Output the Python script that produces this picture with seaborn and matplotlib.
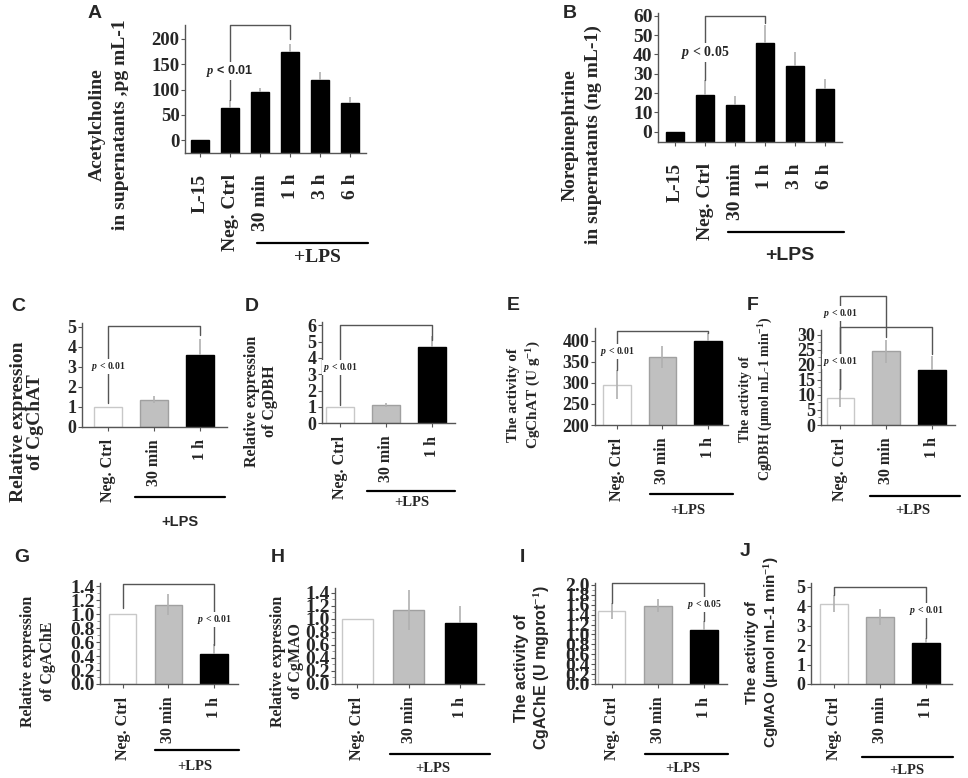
import matplotlib

matplotlib.use("Agg")
import matplotlib.pyplot as plt
import pandas as pd
import seaborn as sns
from matplotlib.lines import Line2D
from matplotlib.ticker import MultipleLocator

W, H = 968, 778

# values (mean, upper error)
time_cats = ["L-15", "Neg. Ctrl", "30 min", "1 h", "3 h", "6 h"]
lps_cats = ["Neg. Ctrl", "30 min", "1 h"]

ach_mean = [0, 63, 96, 174, 119, 73]
ach_err = [0, 17, 6, 17, 16, 13]
ne_mean = [0, 19, 14, 46, 34, 22]
ne_err = [0, 7.7, 4.5, 9, 7, 5]

chat_expr = [1.0, 1.35, 3.62]
chat_expr_err = [0, 0.17, 0.8]
dbh_expr = [1.0, 1.13, 4.68]
dbh_expr_err = [0, 0.12, 0.65]
chat_act = [296, 362, 399]
chat_act_err = [34, 26, 20]
dbh_act = [9.0, 24.5, 18.2]
dbh_act_err = [2.9, 3.9, 4.7]
ache_expr = [1.0, 1.14, 0.43]
ache_expr_err = [0, 0.15, 0.15]
mao_expr = [1.0, 1.13, 0.93]
mao_expr_err = [0, 0.31, 0.27]
ache_act = [1.48, 1.58, 1.10]
ache_act_err = [0.16, 0.13, 0.18]
mao_act = [4.14, 3.46, 2.09]
mao_act_err = [0.42, 0.41, 0.26]

SERIF = "Liberation Serif"
SANS = "Liberation Sans"
EDGE = "#555555"
ERR = "#b0b0b0"
TRIO = ["white", "#c0c0c0", "black"]
TRIO_EDGE = ["#c8c8c8", "#a0a0a0", "black"]

sns.set_style("ticks")
plt.rcParams.update({
    "font.family": [SERIF],
    "font.weight": "bold",
    "mathtext.fontset": "custom",
    "mathtext.rm": "Liberation Serif:bold",
    "mathtext.it": "Liberation Serif:italic:bold",
    "mathtext.bf": "Liberation Serif:bold",
})

fig = plt.figure(figsize=(W / 100, H / 100), dpi=100)


def add_ax(left, top, right, bottom):
    return fig.add_axes([left / W, 1 - bottom / H, (right - left) / W, (bottom - top) / H])


def ftext(x, y, s, size, family=SERIF, rotation=0, ls=1.2):
    fig.text(x / W, 1 - y / H, s, fontsize=size, family=family, rotation=rotation,
             ha="center", va="center", multialignment="center", linespacing=ls)


def lps(x0, x1, y, tx, ty, size, family=SERIF):
    fig.add_artist(Line2D([x0 / W, x1 / W], [1 - y / H, 1 - y / H], color="black", lw=1.6))
    ftext(tx, ty, "+LPS", size, family)


def bar_panel(ax, cats, mean, err, fills, edges, ylim, xlim, yticks,
              ysize=12.5, xsize=11.5, xpad=6, width=0.6, floor=None, minor=None):
    df = pd.DataFrame({"group": cats, "mean": mean})
    sns.barplot(data=df, x="group", y="mean", hue="group", palette=fills, legend=False,
                width=width, linewidth=1, errorbar=None, ax=ax)
    for patch, ec in zip(ax.patches, edges):
        patch.set_edgecolor(ec)
        if floor is not None:
            top = patch.get_y() + patch.get_height()
            patch.set_y(floor)
            patch.set_height(top - floor)
    low = [e if f != "black" else 0 for e, f in zip(err, fills)]
    ax.errorbar(range(len(cats)), mean, yerr=[low, err], fmt="none", ecolor=ERR,
                elinewidth=1.2, capsize=0, zorder=3)
    ax.set_ylim(*ylim)
    ax.set_xlim(*xlim)
    ax.set_yticks(yticks)
    if minor:
        ax.yaxis.set_minor_locator(MultipleLocator(minor))
        ax.tick_params(axis="y", which="minor", length=2, width=0.6, color="#888888")
    ax.set_xlabel("")
    ax.set_ylabel("")
    ax.tick_params(axis="y", labelsize=ysize, length=3, width=0.8, color=EDGE, pad=1)
    ax.tick_params(axis="x", labelsize=xsize, labelrotation=90, length=3, width=0.8,
                   color=EDGE, pad=xpad)
    sns.despine(ax=ax)
    for side in ("left", "bottom"):
        ax.spines[side].set_color(EDGE)
        ax.spines[side].set_linewidth(1)


def bracket(ax, x0, x1, top, y0, y1):
    ax.plot([x0, x0, x1, x1], [y0, top, top, y1], color=EDGE, lw=1, clip_on=False, zorder=4)


def pnote(ax, x, y, s, size=7, family=SERIF):
    ax.text(x, y, s, ha="center", va="center", fontsize=size, family=family, zorder=5,
            bbox=dict(fc="white", ec="none", pad=0.8))


# A - acetylcholine
ax = add_ax(185, 25, 366, 153)
bar_panel(ax, time_cats, ach_mean, ach_err, ["black"] * 6, ["black"] * 6,
          (-25.7, 227.7), (-0.5, 5.53), [0, 50, 100, 150, 200], ysize=13.5, xsize=14,
          xpad=12, floor=-25.7)
bracket(ax, 1, 3, 228, 80, 200)
pnote(ax, 1, 137, "$p$ < 0.01", 9, SANS)
ftext(109, 125, "Acetylcholine\nin supernatants ,pg mL-1", 14, rotation=90, ls=1.45)
ftext(95, 14, "A", 14, SANS)
lps(257, 368, 243, 317, 258, 14)

# B - norepinephrine
ax = add_ax(658, 13, 842, 142.3)
bar_panel(ax, time_cats, ne_mean, ne_err, ["black"] * 6, ["black"] * 6,
          (-5.5, 61.4), (-0.57, 5.57), [0, 10, 20, 30, 40, 50, 60], ysize=14, xsize=14,
          xpad=12, floor=-5.5)
bracket(ax, 1, 3, 60, 26.7, 56)
pnote(ax, 1, 40.9, "$p$ < 0.05", 10)
ftext(582, 135, "Norepinephrine\nin supernatants (ng mL-1)", 14, rotation=90, ls=1.5)
ftext(570, 13, "B", 14, SANS)
lps(728, 844, 232, 790, 255, 14, SANS)

# C - CgChAT expression
ax = add_ax(82, 323, 227, 426.7)
bar_panel(ax, lps_cats, chat_expr, chat_expr_err, TRIO, TRIO_EDGE,
          (0, 5.2), (-0.57, 2.58), [0, 1, 2, 3, 4, 5], ysize=13)
bracket(ax, 0, 2, 5.05, 1.18, 4.6)
pnote(ax, 0, 3.03, "$p$ < 0.01")
ftext(27, 422, "Relative expression\nof CgChAT", 14, rotation=90, ls=1.0)
ftext(18, 307, "C", 14, SANS)
lps(135, 225, 497, 180, 522, 10.5, SANS)

# D - CgDBH expression
ax = add_ax(322, 322, 455, 423.3)
bar_panel(ax, lps_cats, dbh_expr, dbh_expr_err, TRIO, TRIO_EDGE,
          (0, 6.2), (-0.39, 2.5), [0, 1, 2, 3, 4, 5, 6], ysize=13)
bracket(ax, 0, 2, 6.0, 1.13, 5.1)
pnote(ax, 0, 3.39, "$p$ < 0.01")
ftext(261, 401, "Relative expression\nof CgDBH", 11.5, rotation=90, ls=1.15)
ftext(252, 307, "D", 14, SANS)
lps(367, 455, 491, 412, 502, 10.5)

# E - CgChAT activity
ax = add_ax(595, 328, 728, 425)
bar_panel(ax, lps_cats, chat_act, chat_act_err, TRIO, TRIO_EDGE,
          (200, 430), (-0.48, 2.44), [200, 250, 300, 350, 400], ysize=13)
bracket(ax, 0, 2, 424, 330, 418)
pnote(ax, 0, 374, "$p$ < 0.01")
ftext(525, 395, "The activity of\nCgChAT (U g$^{-1}$)", 11, rotation=90, ls=1.3)
ftext(513, 305, "E", 14, SANS)
lps(650, 733, 494, 688, 511, 10.5)

# F - CgDBH activity
ax = add_ax(821, 330, 955, 425)
bar_panel(ax, lps_cats, dbh_act, dbh_act_err, TRIO, TRIO_EDGE,
          (0, 31.6), (-0.42, 2.5), [0, 5, 10, 15, 20, 25, 30], ysize=13, minor=2.5)
bracket(ax, 0, 1, 42.8, 12.1, 29.4)
bracket(ax, 0, 2, 32.5, 12.1, 23.7)
pnote(ax, 0, 37.2, "$p$ < 0.01")
pnote(ax, 0, 21.2, "$p$ < 0.01")
ftext(757, 399, "The activity of\nCgDBH (μmol mL-1 min$^{-1}$)", 10, rotation=90, ls=1.4)
ftext(753, 305, "F", 14, SANS)
lps(870, 960, 496, 913, 511, 10.5)

# G - CgAChE expression
ax = add_ax(100, 583, 238, 684)
bar_panel(ax, lps_cats, ache_expr, ache_expr_err, TRIO, TRIO_EDGE,
          (0, 1.45), (-0.5, 2.53), [0, 0.2, 0.4, 0.6, 0.8, 1.0, 1.2, 1.4],
          ysize=14, minor=0.1)
bracket(ax, 0, 2, 1.43, 1.09, 0.56)
pnote(ax, 2, 0.92, "$p$ < 0.01")
ftext(38, 661, "Relative expression\nof CgAChE", 11.5, rotation=90, ls=1.25)
ftext(22, 557, "G", 14, SANS)
lps(155, 239, 750, 195, 767, 10.5)

# H - CgMAO expression
ax = add_ax(335, 588, 484, 684)
bar_panel(ax, lps_cats, mao_expr, mao_expr_err, TRIO, TRIO_EDGE,
          (0, 1.47), (-0.43, 2.46), [0, 0.2, 0.4, 0.6, 0.8, 1.0, 1.2, 1.4],
          ysize=14, minor=0.1)
ftext(287, 661, "Relative expression\nof CgMAO", 11.5, rotation=90, ls=1.25)
ftext(278, 557, "H", 14, SANS)
lps(390, 490, 754, 433, 769, 10.5)

# I - CgAChE activity
ax = add_ax(595, 583, 727, 684)
bar_panel(ax, lps_cats, ache_act, ache_act_err, TRIO, TRIO_EDGE,
          (0, 2.04), (-0.36, 2.5),
          [0, 0.2, 0.4, 0.6, 0.8, 1.0, 1.2, 1.4, 1.6, 1.8, 2.0], ysize=14, minor=0.1)
bracket(ax, 0, 2, 2.05, 1.64, 1.28)
pnote(ax, 2, 1.6, "$p$ < 0.05")
ftext(533, 668, "The activity of\nCgAChE (U mgprot$^{-1}$)", 11.5, family=SANS, rotation=90, ls=1.2)
ftext(522, 557, "I", 14, SANS)
lps(645, 728, 754, 683, 768, 10.5)

# J - CgMAO activity
ax = add_ax(811, 583, 952, 684)
bar_panel(ax, lps_cats, mao_act, mao_act_err, TRIO, TRIO_EDGE,
          (0, 5.2), (-0.5, 2.57), [0, 1, 2, 3, 4, 5], ysize=13)
bracket(ax, 0, 2, 5.0, 4.57, 2.35)
pnote(ax, 2, 3.8, "$p$ < 0.01")
ftext(763, 652, "The activity of\nCgMAO (μmol mL-1 min$^{-1}$)", 11, family=SANS, rotation=90, ls=1.2)
ftext(745, 551, "J", 14, SANS)
lps(862, 953, 757, 907, 770, 10.5)

fig.savefig("out.png", dpi=100)
